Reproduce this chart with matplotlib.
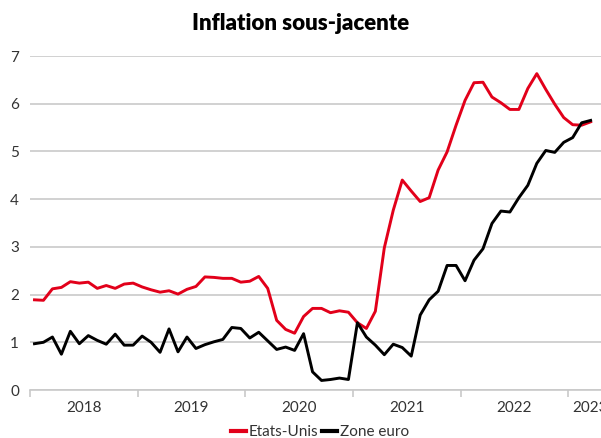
import numpy as np
import matplotlib
matplotlib.use("Agg")
import matplotlib.pyplot as plt
from matplotlib.lines import Line2D

# monthly core inflation, Jan 2018 -> Mar 2023
us = [1.89, 1.88, 2.12, 2.15, 2.27, 2.24, 2.26, 2.13, 2.19, 2.13, 2.22, 2.24,
      2.16, 2.10, 2.05, 2.08, 2.01, 2.11, 2.17, 2.37, 2.36, 2.34, 2.34, 2.26,
      2.28, 2.38, 2.13, 1.46, 1.27, 1.19, 1.54, 1.71, 1.71, 1.62, 1.66, 1.63,
      1.41, 1.29, 1.65, 2.98, 3.77, 4.40, 4.17, 3.95, 4.03, 4.61, 4.99, 5.55,
      6.07, 6.44, 6.45, 6.14, 6.02, 5.88, 5.88, 6.32, 6.63, 6.30, 5.99, 5.71,
      5.56, 5.55, 5.62]
ez = [0.97, 1.00, 1.11, 0.75, 1.23, 0.97, 1.14, 1.04, 0.96, 1.17, 0.94, 0.94,
      1.13, 1.00, 0.79, 1.28, 0.80, 1.11, 0.87, 0.95, 1.01, 1.06, 1.31, 1.29,
      1.09, 1.21, 1.03, 0.85, 0.90, 0.83, 1.18, 0.38, 0.20, 0.22, 0.25, 0.22,
      1.41, 1.11, 0.94, 0.74, 0.96, 0.89, 0.71, 1.57, 1.89, 2.07, 2.61, 2.61,
      2.29, 2.72, 2.96, 3.49, 3.75, 3.73, 4.03, 4.29, 4.75, 5.02, 4.98, 5.19,
      5.29, 5.60, 5.65]
years = ["2018", "2019", "2020", "2021", "2022", "2023"]
n_cat = 12 * len(years)

RED = "#e2001a"
GRID = "#c9c9c9"
TXT = "#333333"
plt.rcParams["font.family"] = ["Lato", "DejaVu Sans"]

fig = plt.figure(figsize=(6.01, 4.38), dpi=100)
W, H = 601, 438
left, right, bottom, top = 30, 30 + 8.97 * n_cat, 390, 56
ax = fig.add_axes([left / W, 1 - bottom / H, (right - left) / W, (bottom - top) / H])

x = np.arange(len(us))
ax.plot(x, us, color=RED, lw=2.1, solid_joinstyle="round", zorder=3)
ax.plot(np.arange(len(ez)), ez, color="black", lw=2.1, solid_joinstyle="round", zorder=3)

ax.set_xlim(-0.5, n_cat - 0.5)
ax.set_ylim(0, 7)
ax.set_yticks(range(0, 8))
ax.yaxis.grid(True, color=GRID, lw=1.2)
ax.set_axisbelow(True)
for s in ["left", "right", "top"]:
    ax.spines[s].set_visible(False)
ax.spines["bottom"].set_color(GRID)
ax.spines["bottom"].set_linewidth(1.2)

# year boundaries as ticks, year names centred on their months
ax.set_xticks(np.arange(0, n_cat + 1, 12) - 0.5)
ax.set_xticklabels([])
ax.tick_params(axis="x", length=5, color=GRID, width=1.2)
label_pos = list(np.arange(len(years) - 1) * 12 + 5.5) + [61.9]
ax.set_xticks(label_pos, minor=True)
ax.set_xticklabels(years, minor=True)
ax.tick_params(axis="x", which="minor", length=0, pad=8, labelsize=11, labelcolor=TXT)
ax.tick_params(axis="y", length=0, pad=8, labelsize=11, labelcolor=TXT)

fig.text(0.5, 1 - 24 / H, "Inflation sous-jacente", ha="center", va="center",
         fontsize=16, fontweight="heavy", color="black")

handles = [Line2D([], [], color=RED, lw=3), Line2D([], [], color="black", lw=3)]
fig.legend(handles, ["Etats-Unis", "Zone euro"], loc="center",
           bbox_to_anchor=(320 / W, 1 - 432 / H), ncol=2, frameon=False,
           fontsize=11, handlelength=1.0, handletextpad=0.2, columnspacing=0.2,
           labelcolor=TXT)

fig.savefig("out.png", dpi=100)
